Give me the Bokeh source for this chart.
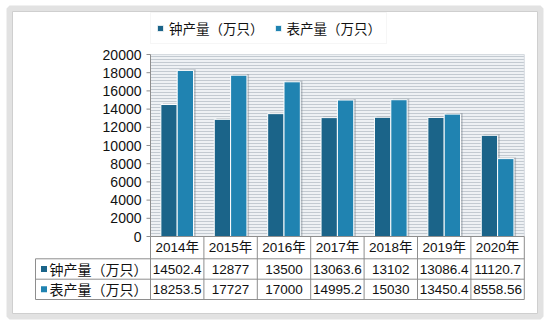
from bokeh.plotting import figure
from bokeh.models import Range1d, Legend, LegendItem, ColumnDataSource
from bokeh.core.properties import value
from bokeh.embed import file_html
from bokeh.resources import INLINE

# ---- data ----
years = ["2014年", "2015年", "2016年", "2017年", "2018年", "2019年", "2020年"]
clock = [14502.4, 12877, 13500, 13063.6, 13102, 13086.4, 11120.7]
watch = [18253.5, 17727, 17000, 14995.2, 15030, 13450.4, 8558.56]
clock_labels = ["14502.4", "12877", "13500", "13063.6", "13102", "13086.4", "11120.7"]
watch_labels = ["18253.5", "17727", "17000", "14995.2", "15030", "13450.4", "8558.56"]
series_names = ["钟产量（万只）", "表产量（万只）"]
y_ticks = [0, 2000, 4000, 6000, 8000, 10000, 12000, 14000, 16000, 18000, 20000]

# ---- layout constants (pixels) ----
W, H = 548, 326
X0, PXX = 150.0, 53.4          # left of first category, px per category
Y0, PY = 236.0, 182.0 / 20000  # px of value 0, px per unit
HEADER_BOT, ROW1_BOT, ROW2_BOT = 258.3, 278.7, 299.0
LABEL_LEFT = 35.0

def ux(px):
    return (px - X0) / PXX

def uy(py):
    return (Y0 - py) / PY

C_CLOCK = "#1b6489"
C_WATCH = "#2083b1"
GRID = "#8e8e8e"
FONT_S = "Liberation Sans, Noto Sans CJK SC"
CJK_S = "Noto Sans CJK SC, Liberation Sans"
FONT = value(FONT_S)
CJK = value(CJK_S)

p = figure(width=W, height=H, output_backend="svg", toolbar_location=None,
           x_range=Range1d(ux(0), ux(W)), y_range=Range1d(uy(H), uy(0)),
           x_axis_type=None, y_axis_type=None, min_border=0)
p.grid.visible = False
p.outline_line_color = None
p.background_fill_color = "white"
p.border_fill_color = "white"

# outer panel with soft shadow
p.quad(left=[ux(9)], right=[ux(540)], top=[uy(8)], bottom=[uy(316)],
       fill_color=None, line_color="#e2e2e2", line_width=6)
p.quad(left=[ux(12)], right=[ux(537)], top=[uy(11)], bottom=[uy(313)],
       fill_color="white", line_color="#cfcfcf", line_width=1)

n = len(years)
xs = [i + 0.5 for i in range(n)]

# striped plot background
p.quad(left=[0], right=[n], bottom=[0], top=[max(y_ticks)],
       fill_color="#eef1f4", line_color="#d6dbe0",
       hatch_pattern="horizontal_line", hatch_scale=3, hatch_weight=1,
       hatch_color="#c3cad1")

src = ColumnDataSource(dict(x=xs, clock=clock, watch=watch,
                            xc=[x - 0.153 for x in xs], xw=[x + 0.153 for x in xs],
                            xcs=[x - 0.153 + 0.04 for x in xs], xws=[x + 0.153 + 0.04 for x in xs],
                            clock_s=[v + 120 for v in clock], watch_s=[v + 120 for v in watch]))

# bar shadows
p.vbar(x="xcs", top="clock_s", bottom=0, width=0.306, source=src,
       fill_color="#7d868e", fill_alpha=0.45, line_color=None)
p.vbar(x="xws", top="watch_s", bottom=0, width=0.306, source=src,
       fill_color="#7d868e", fill_alpha=0.45, line_color=None)

r1 = p.vbar(x="xc", top="clock", bottom=0, width=0.306, source=src,
            fill_color=C_CLOCK, line_color="white", line_width=1)
r2 = p.vbar(x="xw", top="watch", bottom=0, width=0.306, source=src,
            fill_color=C_WATCH, line_color="white", line_width=1)

# y axis (line, ticks, labels)
p.segment(x0=[0], x1=[0], y0=[0], y1=[max(y_ticks)], line_color=GRID, line_width=1)
p.segment(x0=[ux(146)] * len(y_ticks), x1=[0] * len(y_ticks), y0=y_ticks, y1=y_ticks,
          line_color=GRID, line_width=1)
p.text(x=[ux(141)] * len(y_ticks), y=y_ticks, text=[str(t) for t in y_ticks],
       text_align="right", text_baseline="middle", text_font=FONT,
       text_font_size="14px", text_color="#111111")

# table grid
yh, y1, y2 = uy(HEADER_BOT), uy(ROW1_BOT), uy(ROW2_BOT)
lx = ux(LABEL_LEFT)
p.segment(x0=[0, lx, lx, lx], x1=[n, n, n, n], y0=[0, yh, y1, y2], y1=[0, yh, y1, y2],
          line_color=GRID, line_width=1)
vx = list(range(n + 1))
p.segment(x0=vx, x1=vx, y0=[0] * len(vx), y1=[y2] * len(vx), line_color=GRID, line_width=1)
p.segment(x0=[lx], x1=[lx], y0=[yh], y1=[y2], line_color=GRID, line_width=1)

# header (years)
p.text(x=xs, y=[(0 + yh) / 2] * n, text=years, text_align="center", text_baseline="middle",
       text_font=FONT, text_font_size="13.5px", text_color="#111111")
# values
p.text(x=xs, y=[(yh + y1) / 2] * n, text=clock_labels, text_align="center",
       text_baseline="middle", text_font=FONT, text_font_size="13.5px", text_color="#111111")
p.text(x=xs, y=[(y1 + y2) / 2] * n, text=watch_labels, text_align="center",
       text_baseline="middle", text_font=FONT, text_font_size="13.5px", text_color="#111111")
# row labels with color keys
p.scatter(x=[ux(43.5)] * 2, y=[(yh + y1) / 2, (y1 + y2) / 2], marker="square", size=6,
          fill_color=[C_CLOCK, C_WATCH], line_color=None)
p.text(x=[ux(49)] * 2, y=[(yh + y1) / 2, (y1 + y2) / 2], text=series_names,
       text_align="left", text_baseline="middle", text_font=CJK,
       text_font_size="14px", text_color="#111111")

# legend
legend = Legend(items=[LegendItem(label=series_names[0], renderers=[r1]),
                       LegendItem(label=series_names[1], renderers=[r2])],
                orientation="horizontal", location=(150, H - 44),
                glyph_width=8, glyph_height=8, label_standoff=5, spacing=10,
                padding=5, margin=0, border_line_color="#eeeeee",
                background_fill_color="white", background_fill_alpha=1,
                label_text_font=CJK_S, label_text_font_size="13.5px",
                label_text_color="#111111")
p.add_layout(legend, "center")

open("out.html", "w").write(file_html(p, INLINE))
